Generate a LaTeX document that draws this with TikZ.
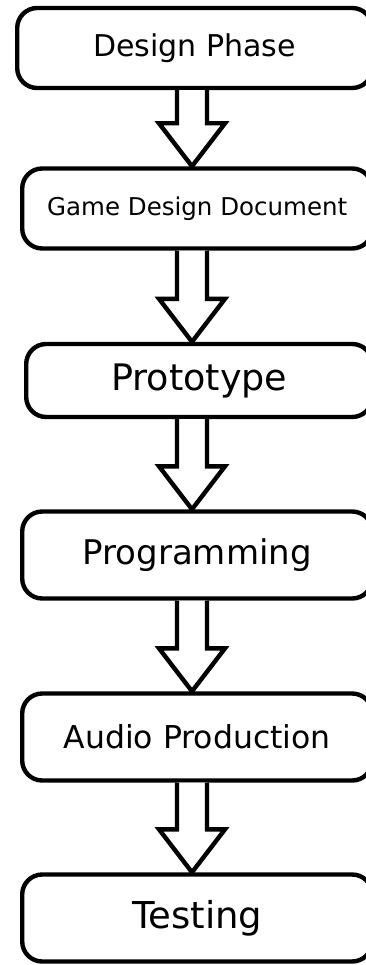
\documentclass[tikz,border=0pt]{standalone}
\usepackage{fontspec}
\setmainfont{DejaVu Sans}
\usetikzlibrary{calc}

\newcommand{\blockarrow}[2]{%
  \draw[blockarr] ([xshift=-15pt]#1.south -| axis) -- ($(#2.north -| axis)+(-15pt,43pt)$) -- ++(-18pt,0pt)
    -- (#2.north -| axis) -- ++(33pt,43pt) -- ++(-18pt,0pt) -- ([xshift=15pt]#1.south -| axis);}

\begin{document}
\begin{tikzpicture}[x=1pt,y=1pt,
    stage/.style={draw, line width=4.4pt, rounded corners=20pt, fill=white, inner sep=0pt,
                  minimum width=350pt, anchor=west},
    blockarr/.style={draw, line width=4.4pt, fill=white, line join=miter}]
    \useasboundingbox (0,0) rectangle (365,-965);
    \coordinate (axis) at (192,0);

    \node[stage, minimum width=355pt, minimum height=80pt, font=\fontsize{30}{35}\selectfont] (design) at (15,-48) {Design Phase};
    \node[stage, minimum height=80pt, font=\fontsize{24.5}{29}\selectfont] (gdd) at (20,-208.5) {Game Design Document};
    \node[stage, minimum width=346pt, minimum height=73pt, font=\fontsize{36.5}{42}\selectfont] (proto) at (24,-380.5) {Prototype};
    \node[stage, minimum height=87pt, font=\fontsize{34}{39}\selectfont] (prog) at (20,-555) {Programming};
    \node[stage, minimum height=87pt, font=\fontsize{31.5}{36}\selectfont] (audio) at (20,-737) {Audio Production};
    \node[stage, minimum height=87pt, font=\fontsize{37}{43}\selectfont] (test) at (20,-918) {Testing};

    \blockarrow{design}{gdd}
    \blockarrow{gdd}{proto}
    \blockarrow{proto}{prog}
    \blockarrow{prog}{audio}
    \blockarrow{audio}{test}
\end{tikzpicture}
\end{document}
